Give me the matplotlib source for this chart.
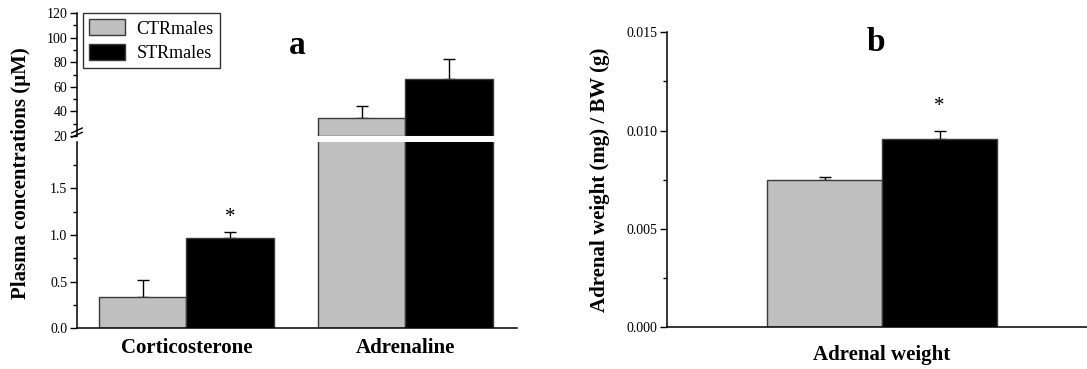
import numpy as np
import matplotlib
matplotlib.use("Agg")
import matplotlib.pyplot as plt
from matplotlib.patches import Patch

plt.rcParams["font.family"] = ["Liberation Serif", "DejaVu Serif"]

# plasma hormones (mean, SEM)
groups = ["Corticosterone", "Adrenaline"]
ctr_means = [0.335, 34.9]
ctr_sem = [0.176, 9.2]
str_means = [0.964, 66.6]
str_sem = [0.066, 16.2]

# adrenal weight normalised to body weight (mean, SEM)
adrenal_label = ["Adrenal weight"]
adrenal_ctr = [0.00746]
adrenal_ctr_sem = [0.00017]
adrenal_str = [0.00959]
adrenal_str_sem = [0.00041]

series_names = ["CTRmales", "STRmales"]

GREY = "#c0c0c0"
EDGE = "#3a3a3a"
BREAK = 20  # y-axis break between the two scales in panel a
W = 0.4

fig = plt.figure(figsize=(10.87, 3.69), dpi=100)

ax_lo = fig.add_axes([0.0708, 0.1111, 0.4048, 0.5041])
ax_hi = fig.add_axes([0.0708, 0.6314, 0.4048, 0.3334])
ax_b = fig.add_axes([0.6136, 0.1138, 0.3864, 0.7987])

x = np.arange(len(groups))
ctr_means = np.array(ctr_means)
str_means = np.array(str_means)


def draw_bars(ax, xs, ctr, ctr_e, stv, st_e, w):
    ax.bar(xs - w / 2, ctr, w, color=GREY, edgecolor=EDGE, linewidth=1, zorder=2)
    ax.bar(xs + w / 2, stv, w, color="black", edgecolor=EDGE, linewidth=1, zorder=2)
    ax.errorbar(xs - w / 2, ctr, yerr=[np.zeros(len(xs)), ctr_e], fmt="none",
                ecolor="black", elinewidth=1, capsize=4.5, capthick=1, zorder=1)
    ax.errorbar(xs + w / 2, stv, yerr=[np.zeros(len(xs)), st_e], fmt="none",
                ecolor="black", elinewidth=1, capsize=4.5, capthick=1, zorder=1)


# lower scale
draw_bars(ax_lo, x, ctr_means, ctr_sem, str_means, str_sem, W)
ax_lo.set_ylim(0, 2.0)
ax_lo.set_xlim(-0.5, 1.51)
ax_lo.set_yticks([0.0, 0.5, 1.0, 1.5])
ax_lo.set_yticks(np.arange(0.25, 2.0, 0.5), minor=True)
ax_lo.set_yticklabels(["0.0", "0.5", "1.0", "1.5"])
ax_lo.set_xticks(x)
ax_lo.set_xticklabels(groups, fontsize=15, fontweight="bold")
ax_lo.tick_params(axis="x", length=0, pad=7)

# upper scale: only the bars that reach above the break
hi = ctr_means > BREAK
ax_hi.bar(x[hi] - W / 2, ctr_means[hi] - BREAK, W, bottom=BREAK, color=GREY,
          edgecolor=EDGE, linewidth=1, zorder=2)
ax_hi.bar(x[hi] + W / 2, str_means[hi] - BREAK, W, bottom=BREAK, color="black",
          edgecolor=EDGE, linewidth=1, zorder=2)
ax_hi.errorbar(x[hi] - W / 2, ctr_means[hi], yerr=[[0] * hi.sum(), np.array(ctr_sem)[hi]],
               fmt="none", ecolor="black", elinewidth=1, capsize=4.5, capthick=1, zorder=1)
ax_hi.errorbar(x[hi] + W / 2, str_means[hi], yerr=[[0] * hi.sum(), np.array(str_sem)[hi]],
               fmt="none", ecolor="black", elinewidth=1, capsize=4.5, capthick=1, zorder=1)
ax_hi.set_ylim(BREAK, 120)
ax_hi.set_xlim(-0.5, 1.51)
ax_hi.set_yticks(np.arange(20, 121, 20))
ax_hi.set_yticks(np.arange(30, 120, 20), minor=True)
ax_hi.set_xticks([])
ax_hi.spines["bottom"].set_visible(False)

# break marks on the left spine
for dy in (0.0, 0.035):
    ax_hi.plot([-0.012, 0.012], [-0.01 + dy, 0.03 + dy], transform=ax_hi.transAxes,
               color="black", linewidth=1, clip_on=False)

# panel b
xb = np.arange(len(adrenal_label))
draw_bars(ax_b, xb, adrenal_ctr, adrenal_ctr_sem, adrenal_str, adrenal_str_sem, W)
ax_b.set_ylim(0, 0.015)
ax_b.set_xlim(-0.748, 0.713)
ax_b.set_yticks([0.0, 0.005, 0.010, 0.015])
ax_b.set_yticklabels(["0.000", "0.005", "0.010", "0.015"])
ax_b.set_yticks([0.0025, 0.0075, 0.0125], minor=True)
ax_b.set_xticks(xb)
ax_b.set_xticklabels(adrenal_label, fontsize=15, fontweight="bold")
ax_b.tick_params(axis="x", length=0, pad=13)

for ax in (ax_lo, ax_hi, ax_b):
    for s in ("top", "right"):
        ax.spines[s].set_visible(False)
    for s in ("left", "bottom"):
        ax.spines[s].set_linewidth(1.1)
    ax.tick_params(axis="y", which="major", direction="out", length=5, width=1,
                   labelsize=10, pad=2)
    ax.tick_params(axis="y", which="minor", direction="out", length=3, width=1)

# significance stars
ax_lo.text(x[0] + W / 2, str_means[0] + str_sem[0] + 0.16, "*", ha="center",
           va="center", fontsize=15)
ax_b.text(xb[0] + W / 2, adrenal_str[0] + adrenal_str_sem[0] + 0.0012, "*",
          ha="center", va="center", fontsize=15)

# axis titles and panel letters
fig.text(0.019, 0.532, "Plasma concentrations (\u00b5M)", rotation=90, ha="center",
         va="center", fontsize=15, fontweight="bold")
fig.text(0.552, 0.512, "Adrenal weight (mg) / BW (g)", rotation=90, ha="center",
         va="center", fontsize=15, fontweight="bold")
fig.text(0.273, 0.878, "a", ha="center", va="center", fontsize=24, fontweight="bold")
fig.text(0.806, 0.886, "b", ha="center", va="center", fontsize=24, fontweight="bold")

handles = [Patch(facecolor=GREY, edgecolor=EDGE), Patch(facecolor="black", edgecolor=EDGE)]
leg = ax_hi.legend(handles, series_names, loc="upper left",
                   bbox_to_anchor=(83 / 1087, 1 - 13 / 369),
                   bbox_transform=fig.transFigure, fontsize=13, frameon=True,
                   fancybox=False, edgecolor="black", handlelength=2.0,
                   handleheight=1.0, borderpad=0.35, labelspacing=0.35,
                   handletextpad=0.6, borderaxespad=0)
leg.get_frame().set_linewidth(1)

fig.savefig("out.png", dpi=100)
